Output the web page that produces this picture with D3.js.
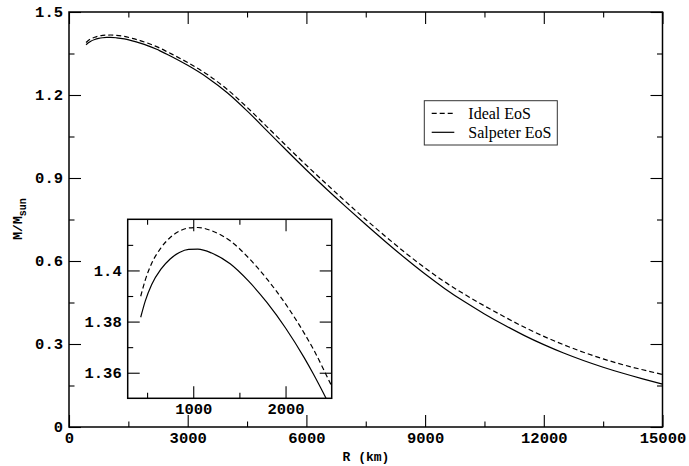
<!DOCTYPE html>
<html>
<head>
<meta charset="utf-8">
<script src="https://cdn.jsdelivr.net/npm/d3@7"></script>
<style>
  html, body { margin: 0; padding: 0; background: #fff; }
  svg { display: block; }
</style>
</head>
<body>
<svg id="chart" width="689" height="466"></svg>
<script>
// ---- data ----
const radiusKm = [431, 480, 550, 650, 750, 850, 950, 1050, 1200, 1400, 1600, 1800, 2000, 2200, 2300, 2500,
  2600, 3000, 3500, 4000, 4500, 5000, 5500, 6000, 6500, 7000, 7500, 8000, 8500, 9000, 9500, 10000,
  10500, 11000, 11500, 12000, 12500, 13000, 13500, 14000, 14500, 15000];
const massIdeal = [1.3899, 1.3962, 1.4028, 1.4088, 1.4129, 1.4154, 1.4166, 1.4168, 1.4155, 1.4116, 1.4049, 1.3966, 1.3869, 1.3756, 1.3693, 1.3548,
  1.3477, 1.3172, 1.2737, 1.2200, 1.1555, 1.0858, 1.0153, 0.9460, 0.8793, 0.8138, 0.7500, 0.6888, 0.6298, 0.5748, 0.5241, 0.4793,
  0.4378, 0.3986, 0.3613, 0.3276, 0.2973, 0.2703, 0.2461, 0.2251, 0.2068, 0.1898];
const massSalpeter = [1.3817, 1.3880, 1.3945, 1.4005, 1.4045, 1.4070, 1.4082, 1.4083, 1.4068, 1.4026, 1.3958, 1.3874, 1.3775, 1.3660, 1.3596, 1.3456,
  1.3382, 1.3072, 1.2627, 1.2080, 1.1425, 1.0713, 0.9993, 0.9290, 0.8613, 0.7958, 0.7320, 0.6698, 0.6098, 0.5528, 0.5001, 0.4523,
  0.4088, 0.3686, 0.3313, 0.2976, 0.2673, 0.2403, 0.2161, 0.1941, 0.1738, 0.1548];
const seriesNames = ["Ideal EoS", "Salpeter EoS"];

const xMajor = [0, 3000, 6000, 9000, 12000, 15000];
const xMinor = [1500, 4500, 7500, 10500, 13500];
const yMajor = [0, 0.3, 0.6, 0.9, 1.2, 1.5];
const yMinor = [0.15, 0.45, 0.75, 1.05, 1.35];
const yMajorLabels = ["0", "0.3", "0.6", "0.9", "1.2", "1.5"];

const insetXMajor = [1000, 2000];
const insetXMinor = [500, 1500];
const insetYMajor = [1.36, 1.38, 1.40];
const insetYMinor = [1.37, 1.39, 1.41];
const insetYLabels = ["1.36", "1.38", "1.4"];

// ---- drawing ----
const svg = d3.select("#chart");
const monoFont = "'Liberation Mono', 'DejaVu Sans Mono', monospace";

const x = d3.scaleLinear().domain([0, 15000]).range([69, 662.5]);
const y = d3.scaleLinear().domain([0, 1.5]).range([427, 12]);

const xi = d3.scaleLinear().domain([290, 2500]).range([127.7, 331.7]);
const yi = d3.scaleLinear().domain([1.35, 1.42]).range([398.3, 219.3]);

const pts = radiusKm.map((r, i) => ({ r, ideal: massIdeal[i], salp: massSalpeter[i] }));

function frame(g, xs, ys, opts) {
  const [x0, x1] = xs.range();
  const [y0, y1] = ys.range(); // y0 bottom, y1 top
  const majorLen = 12, minorLen = 5.5;
  const styleAxis = sel => {
    sel.select(".domain").remove();
    sel.selectAll(".tick line").attr("stroke", "#000").attr("stroke-width", 1.1);
    sel.selectAll("text").attr("font-family", monoFont).attr("font-weight", "bold")
      .attr("font-size", "15.5px").attr("fill", "#000");
  };
  g.append("g").attr("transform", `translate(0,${y0})`)
    .call(d3.axisBottom(xs).tickValues(opts.xMajor).tickSize(-majorLen).tickPadding(5)
      .tickFormat(opts.xLabel)).call(styleAxis);
  g.append("g").attr("transform", `translate(0,${y0})`)
    .call(d3.axisBottom(xs).tickValues(opts.xMinor).tickSize(-minorLen).tickFormat("")).call(styleAxis);
  g.append("g").attr("transform", `translate(0,${y1})`)
    .call(d3.axisTop(xs).tickValues(opts.xMajor).tickSize(-majorLen).tickFormat("")).call(styleAxis);
  g.append("g").attr("transform", `translate(0,${y1})`)
    .call(d3.axisTop(xs).tickValues(opts.xMinor).tickSize(-minorLen).tickFormat("")).call(styleAxis);
  g.append("g").attr("transform", `translate(${x0},0)`)
    .call(d3.axisLeft(ys).tickValues(opts.yMajor).tickSize(-majorLen).tickPadding(6)
      .tickFormat((d, i) => opts.yLabels[i])).call(styleAxis);
  g.append("g").attr("transform", `translate(${x0},0)`)
    .call(d3.axisLeft(ys).tickValues(opts.yMinor).tickSize(-minorLen).tickFormat("")).call(styleAxis);
  g.append("g").attr("transform", `translate(${x1},0)`)
    .call(d3.axisRight(ys).tickValues(opts.yMajor).tickSize(-majorLen).tickFormat("")).call(styleAxis);
  g.append("g").attr("transform", `translate(${x1},0)`)
    .call(d3.axisRight(ys).tickValues(opts.yMinor).tickSize(-minorLen).tickFormat("")).call(styleAxis);
  g.append("rect").attr("x", x0).attr("y", y1).attr("width", x1 - x0).attr("height", y0 - y1)
    .attr("fill", "none").attr("stroke", "#000").attr("stroke-width", 1.5);
}

// main curves
const main = svg.append("g");
main.append("clipPath").attr("id", "clipMain").append("rect")
  .attr("x", 69).attr("y", 12).attr("width", 662.5 - 69).attr("height", 427 - 12);
const lineIdeal = d3.line().x(d => x(d.r)).y(d => y(d.ideal)).curve(d3.curveMonotoneX);
const lineSalp = d3.line().x(d => x(d.r)).y(d => y(d.salp)).curve(d3.curveMonotoneX);
main.append("path").datum(pts).attr("d", lineIdeal).attr("clip-path", "url(#clipMain)")
  .attr("fill", "none").attr("stroke", "#000").attr("stroke-width", 1.2).attr("stroke-dasharray", "5,3");
main.append("path").datum(pts).attr("d", lineSalp).attr("clip-path", "url(#clipMain)")
  .attr("fill", "none").attr("stroke", "#000").attr("stroke-width", 1.2);

frame(main, x, y, {
  xMajor, xMinor, yMajor, yMinor, yLabels: yMajorLabels,
  xLabel: d => String(d)
});

// axis titles
svg.append("text").attr("x", 366).attr("y", 461).attr("text-anchor", "middle")
  .attr("font-family", monoFont).attr("font-weight", "bold").attr("font-size", "13px")
  .text("R (km)");
const yt = svg.append("text").attr("transform", "translate(22,219) rotate(-90)")
  .attr("text-anchor", "middle").attr("font-family", monoFont).attr("font-weight", "bold")
  .attr("font-size", "13px");
yt.append("tspan").text("M/M");
yt.append("tspan").attr("font-size", "10px").attr("dy", "4").text("sun");

// inset
const inset = svg.append("g");
inset.append("rect").attr("x", 127.7).attr("y", 219.3).attr("width", 331.7 - 127.7).attr("height", 398.3 - 219.3)
  .attr("fill", "#fff");
inset.append("clipPath").attr("id", "clipInset").append("rect")
  .attr("x", 127.7).attr("y", 219.3).attr("width", 331.7 - 127.7).attr("height", 398.3 - 219.3);
const insetPts = pts.filter(d => d.r <= 2600);
const lineIdealI = d3.line().x(d => xi(d.r)).y(d => yi(d.ideal)).curve(d3.curveMonotoneX);
const lineSalpI = d3.line().x(d => xi(d.r)).y(d => yi(d.salp)).curve(d3.curveMonotoneX);
inset.append("path").datum(insetPts).attr("d", lineIdealI).attr("clip-path", "url(#clipInset)")
  .attr("fill", "none").attr("stroke", "#000").attr("stroke-width", 1.2).attr("stroke-dasharray", "5,3");
inset.append("path").datum(insetPts).attr("d", lineSalpI).attr("clip-path", "url(#clipInset)")
  .attr("fill", "none").attr("stroke", "#000").attr("stroke-width", 1.2);
frame(inset, xi, yi, {
  xMajor: insetXMajor, xMinor: insetXMinor, yMajor: insetYMajor, yMinor: insetYMinor,
  yLabels: insetYLabels, xLabel: d => String(d)
});

// legend
const lg = svg.append("g");
lg.append("rect").attr("x", 424.3).attr("y", 100.7).attr("width", 133).attr("height", 44.3)
  .attr("fill", "#fff").attr("stroke", "#333").attr("stroke-width", 1);
const legendRows = [
  { name: seriesNames[0], dash: "5,3", ly: 113.3, ty: 118.8 },
  { name: seriesNames[1], dash: null, ly: 132.3, ty: 137.5 }
];
legendRows.forEach(r => {
  lg.append("line").attr("x1", 431.7).attr("x2", 454.3).attr("y1", r.ly).attr("y2", r.ly)
    .attr("stroke", "#000").attr("stroke-width", 1.2).attr("stroke-dasharray", r.dash);
  lg.append("text").attr("x", 468.3).attr("y", r.ty)
    .attr("font-family", "'Liberation Serif', 'Times New Roman', serif").attr("font-size", "16px")
    .attr("fill", "#000").text(r.name);
});
</script>
</body>
</html>
